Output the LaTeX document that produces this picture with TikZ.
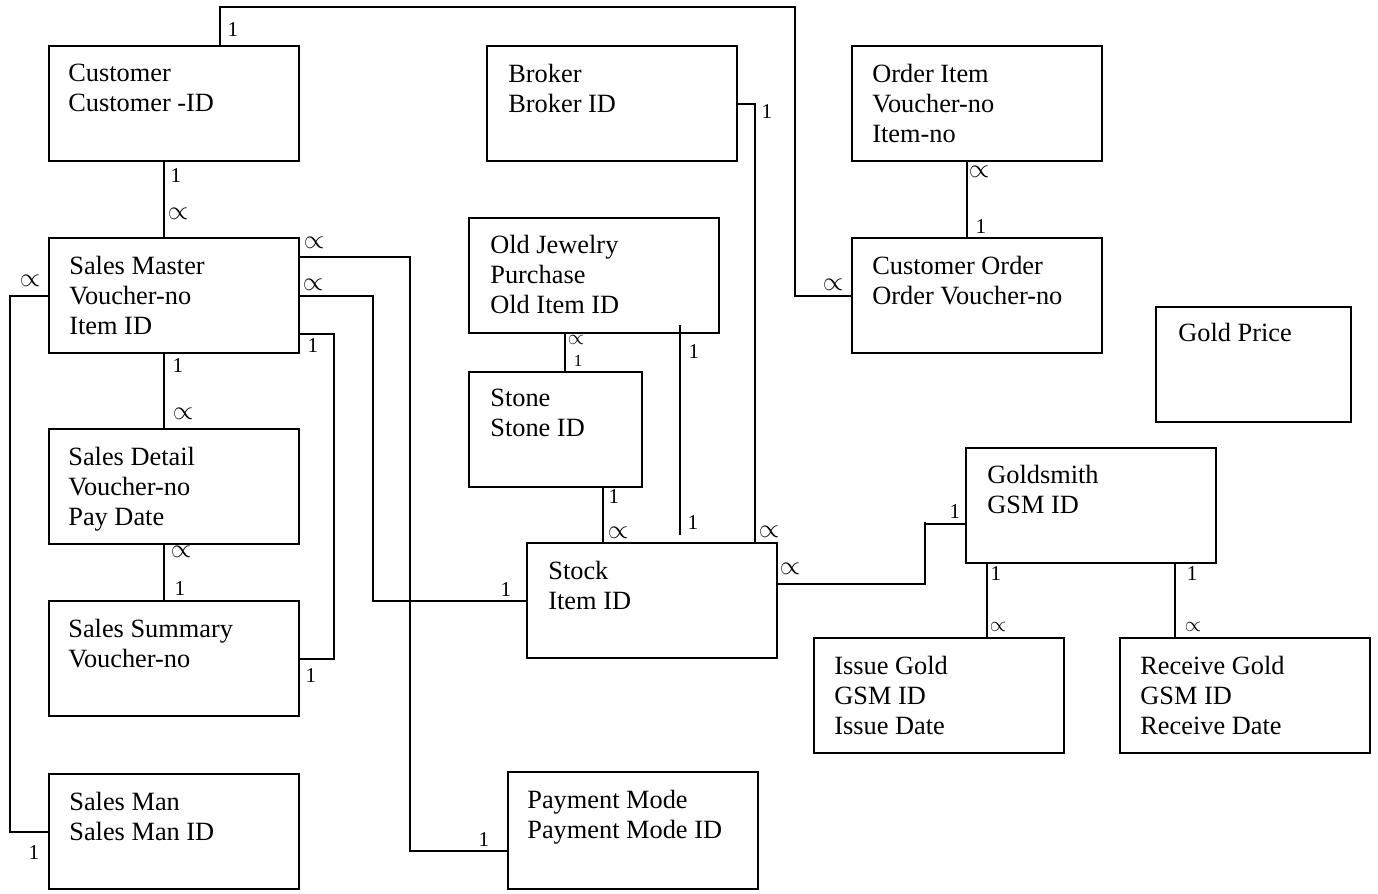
\documentclass[tikz,border=0pt]{standalone}
\usepackage{fontspec}
\setmainfont{Liberation Serif}
\tikzset{
	entity/.style={draw, line width=1.3pt, minimum width=5cm, minimum height=2.3cm, anchor=north west, inner sep=0pt},
	attr/.style={anchor=north west, align=left, inner sep=0pt, font=\fontsize{15}{17.07}\selectfont},
	mult/.style={inner sep=0pt, font=\fontsize{12}{12}\selectfont},
	many/.style={mult, scale=1.25},
	rel/.style={line width=1pt}
}
\begin{document}
\begin{tikzpicture}[x=0.02cm, y=-0.02cm]
			\useasboundingbox (0,0) rectangle (1378,893);
			% entities
			\node[entity] (cust) at (48,45) {};
			\node[attr] (cust-t) at ([shift={(20,19)}]cust.north west) {Customer\\Customer -ID};
			\node[entity] (broker) at (486,45) {};
			\node[attr] (broker-t) at ([shift={(22,19)}]broker.north west) {Broker\\Broker ID};
			\node[entity] (oitem) at (851,45) {};
			\node[attr] (oitem-t) at ([shift={(21,19)}]oitem.north west) {Order Item\\Voucher-no\\Item-no};
			\node[entity] (sm) at (48,237) {};
			\node[attr] (sm-t) at ([shift={(21,19)}]sm.north west) {Sales Master\\Voucher-no\\Item ID};
			\node[entity] (oj) at (468,217) {};
			\node[attr] (oj-t) at ([shift={(22,18)}]oj.north west) {Old Jewelry\\Purchase\\Old Item ID};
			\node[entity] (corder) at (851,237) {};
			\node[attr] (corder-t) at ([shift={(21,19)}]corder.north west) {Customer Order\\Order Voucher-no};
			\node[entity, minimum width=3.9cm] (gprice) at (1155,306) {};
			\node[attr] (gprice-t) at ([shift={(23,17)}]gprice.north west) {Gold Price};
			\node[entity, minimum width=3.46cm] (stone) at (468,371) {};
			\node[attr] (stone-t) at ([shift={(22,18)}]stone.north west) {Stone\\Stone ID};
			\node[entity] (sd) at (48,428) {};
			\node[attr] (sd-t) at ([shift={(20,19)}]sd.north west) {Sales Detail\\Voucher-no\\Pay Date};
			\node[entity] (gsm) at (965,447) {};
			\node[attr] (gsm-t) at ([shift={(22,18)}]gsm.north west) {Goldsmith\\GSM ID};
			\node[entity] (stock) at (526,542) {};
			\node[attr] (stock-t) at ([shift={(22,19)}]stock.north west) {Stock\\Item ID};
			\node[entity] (ss) at (48,600) {};
			\node[attr] (ss-t) at ([shift={(20,19)}]ss.north west) {Sales Summary\\Voucher-no};
			\node[entity] (igold) at (813,637) {};
			\node[attr] (igold-t) at ([shift={(21,19)}]igold.north west) {Issue Gold\\GSM ID\\Issue Date};
			\node[entity] (rgold) at (1119,637) {};
			\node[attr] (rgold-t) at ([shift={(21,19)}]rgold.north west) {Receive Gold\\GSM ID\\Receive Date};
			\node[entity] (sman) at (48,773) {};
			\node[attr] (sman-t) at ([shift={(21,19)}]sman.north west) {Sales Man\\Sales Man ID};
			\node[entity, minimum height=2.34cm] (pm) at (507,771) {};
			\node[attr] (pm-t) at ([shift={(20,19)}]pm.north west) {Payment Mode\\Payment Mode ID};
			% relations
			\draw[rel] ([shift={(172,0)}]cust.north west) |- (795,7) |- (corder.west);
			\draw[rel] ([shift={(-10,0)}]cust.south) -- ([shift={(-10,0)}]sm.north);
			\draw[rel] ([shift={(-10,0)}]sm.south) -- ([shift={(-10,0)}]sd.north);
			\draw[rel] ([shift={(-10,0)}]sd.south) -- ([shift={(-10,0)}]ss.north);
			\draw[rel] ([shift={(0,-39)}]sm.east) -| (410,850) |- ([shift={(0,20)}]pm.west);
			\draw[rel] (sm.east) -| (373,600) |- (stock.west);
			\draw[rel] ([shift={(0,38)}]sm.east) -| (334,658) |- (ss.east);
			\draw[rel] (sm.west) -| (10,830) |- (sman.west);
			\draw[rel] (broker.east) -| ([shift={(229,0)}]stock.north west);
			\draw[rel] ([shift={(116,0)}]oitem.south west) -- ([shift={(116,0)}]corder.north west);
			\draw[rel] ([shift={(97,0)}]oj.south west) -- ([shift={(97,0)}]stone.north west);
			\draw[rel] ([shift={(212,-9)}]oj.south west) -- ([shift={(154,-7)}]stock.north west);
			\draw[rel] ([shift={(135,0)}]stone.south west) -- ([shift={(77,0)}]stock.north west);
			\draw[rel] ([shift={(0,-17)}]stock.east) -| (925,522) |- ([shift={(0,18)}]gsm.west);
			\draw[rel] ([shift={(22,0)}]gsm.south west) -- ([shift={(174,0)}]igold.north west);
			\draw[rel] ([shift={(210,0)}]gsm.south west) -- ([shift={(56,0)}]rgold.north west);
			% multiplicities
			\node[mult] (m1) at (233,30) {1};
			\node[mult] (m2) at (176,176) {1};
			\node[many] (m3) at (178,214) {$\propto$};
			\node[many] (m4) at (314,243) {$\propto$};
			\node[many] (m5) at (313,285) {$\propto$};
			\node[mult] (m6) at (313,346) {1};
			\node[many] (m7) at (30,281) {$\propto$};
			\node[mult] (m8) at (34,853) {1};
			\node[mult] (m9) at (484,840) {1};
			\node[mult] (m10) at (506,590) {1};
			\node[mult] (m11) at (311,676) {1};
			\node[mult] (m12) at (178,366) {1};
			\node[many] (m13) at (183,414) {$\propto$};
			\node[many] (m14) at (181,552) {$\propto$};
			\node[mult] (m15) at (180,589) {1};
			\node[mult] (m16) at (767,112) {1};
			\node[many] (m17) at (769,532) {$\propto$};
			\node[many] (m18) at (979,172) {$\propto$};
			\node[mult] (m19) at (981,227) {1};
			\node[mult] (m20) at (576,340) {$\propto$};
			\node[mult, scale=0.8] (m21) at (578,361) {1};
			\node[mult] (m22) at (694,352) {1};
			\node[mult] (m23) at (693,523) {1};
			\node[mult] (m24) at (614,497) {1};
			\node[many] (m25) at (618,533) {$\propto$};
			\node[many] (m26) at (833,285) {$\propto$};
			\node[many] (m27) at (790,569) {$\propto$};
			\node[mult] (m28) at (955,512) {1};
			\node[mult] (m29) at (996,574) {1};
			\node[mult] (m30) at (998,627) {$\propto$};
			\node[mult] (m31) at (1192,574) {1};
			\node[mult] (m32) at (1193,627) {$\propto$};
		\end{tikzpicture}
\end{document}
